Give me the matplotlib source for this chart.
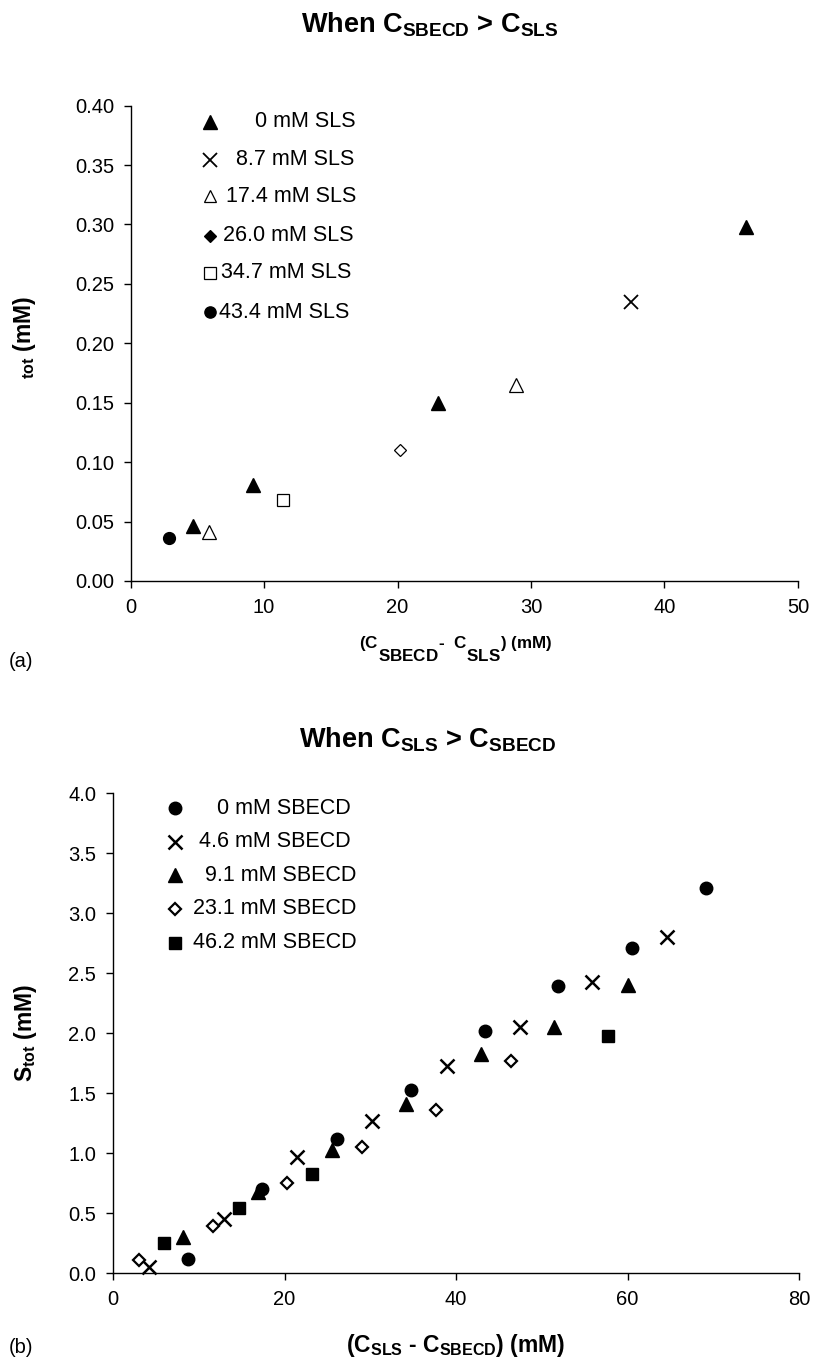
import matplotlib
matplotlib.use("Agg")
import matplotlib.pyplot as plt
from matplotlib.ticker import MultipleLocator, FormatStrFormatter

plt.rcParams['font.family'] = ['Liberation Sans', 'DejaVu Sans']
plt.rcParams['mathtext.fontset'] = 'custom'
plt.rcParams['mathtext.rm'] = 'Liberation Sans'
plt.rcParams['mathtext.bf'] = 'Liberation Sans:bold'
plt.rcParams['mathtext.it'] = 'Liberation Sans:italic'

# ---------------- data: panel (a) ----------------
a_labels = ["0 mM SLS", "8.7 mM SLS", "17.4 mM SLS", "26.0 mM SLS", "34.7 mM SLS", "43.4 mM SLS"]
a0_x = [4.65, 9.2, 23.05, 46.1]
a0_y = [0.046, 0.081, 0.150, 0.298]
a1_x = [37.5]
a1_y = [0.235]
a2_x = [5.9, 28.9]
a2_y = [0.041, 0.165]
a3_x = [20.15]
a3_y = [0.110]
a4_x = [11.45]
a4_y = [0.068]
a5_x = [2.85]
a5_y = [0.036]

# ---------------- data: panel (b) ----------------
b_labels = ["0 mM SBECD", "4.6 mM SBECD", "9.1 mM SBECD", "23.1 mM SBECD", "46.2 mM SBECD"]
b0_x = [8.75, 17.4, 26.1, 34.7, 43.4, 51.9, 60.5, 69.1]
b0_y = [0.12, 0.70, 1.12, 1.53, 2.02, 2.39, 2.71, 3.21]
b1_x = [4.2, 12.9, 21.45, 30.2, 38.9, 47.5, 55.9, 64.6]
b1_y = [0.05, 0.455, 0.97, 1.265, 1.73, 2.055, 2.43, 2.80]
b2_x = [8.15, 16.95, 25.5, 34.2, 42.9, 51.4, 60.0]
b2_y = [0.30, 0.68, 1.03, 1.41, 1.83, 2.05, 2.40]
b3_x = [3.0, 11.65, 20.3, 29.0, 37.7, 46.4]
b3_y = [0.11, 0.39, 0.755, 1.055, 1.36, 1.77]
b4_x = [5.95, 14.65, 23.2, 57.7]
b4_y = [0.255, 0.54, 0.825, 1.98]

TICK_FS = 14.5
LEG_FS = 15.5

fig = plt.figure(figsize=(8.13, 13.59), dpi=100)
axA = fig.add_axes([0.1606, 0.5725, 0.8209, 0.3498])
axB = fig.add_axes([0.139, 0.0631, 0.8438, 0.3532])


def style_axes(ax, xmax, xstep, ymax, ystep, yfmt):
    ax.set_xlim(0, xmax)
    ax.set_ylim(0, ymax)
    ax.xaxis.set_major_locator(MultipleLocator(xstep))
    ax.yaxis.set_major_locator(MultipleLocator(ystep))
    ax.yaxis.set_major_formatter(FormatStrFormatter(yfmt))
    for s in ['top', 'right']:
        ax.spines[s].set_visible(False)
    for s in ['left', 'bottom']:
        ax.spines[s].set_linewidth(1.0)
        ax.spines[s].set_color('black')
    ax.tick_params(direction='out', length=5, width=1.0, labelsize=TICK_FS, pad=7, colors='black')


style_axes(axA, 50, 10, 0.40, 0.05, '%.2f')
style_axes(axB, 80, 20, 4.0, 0.5, '%.1f')

k = dict(linestyle='none', clip_on=False, color='black')

# panel (a) series styles: (marker, size, face, edgewidth)
a_series = [
    (a0_x, a0_y, '^', 10, 'black', 1.0),
    (a1_x, a1_y, 'x', 10, 'black', 1.3),
    (a2_x, a2_y, '^', 9.5, 'white', 0.9),
    (a3_x, a3_y, 'D', 6, 'white', 0.9),
    (a4_x, a4_y, 's', 8.5, 'white', 0.9),
    (a5_x, a5_y, 'o', 8.5, 'black', 1.0),
]
for x, y, m, ms, fc, mew in a_series:
    axA.plot(x, y, marker=m, markersize=ms, markerfacecolor=fc,
             markeredgecolor='black', markeredgewidth=mew, **k)

# legend (a)
a_leg_face = ['black', 'black', 'white', 'black', 'white', 'black']
a_leg_y = [0.9655, 0.8856, 0.8098, 0.7257, 0.6479, 0.5658]
a_leg_tx = [0.1864, 0.1579, 0.1429, 0.1384, 0.1354, 0.1325]
for i, (x, y, m, ms, fc, mew) in enumerate(a_series):
    axA.plot([0.119], [a_leg_y[i]], transform=axA.transAxes, marker=m,
             markersize=ms * 0.95, markerfacecolor=a_leg_face[i],
             markeredgecolor='black', markeredgewidth=mew, **k)
    axA.text(a_leg_tx[i], a_leg_y[i], a_labels[i], transform=axA.transAxes,
             fontsize=LEG_FS, ha='left', va='center')

# panel (b) series
b_series = [
    (b0_x, b0_y, 'o', 9, 'black', 1.0),
    (b1_x, b1_y, 'x', 9.5, 'black', 1.8),
    (b2_x, b2_y, '^', 9.5, 'black', 1.0),
    (b3_x, b3_y, 'D', 5.8, 'white', 1.6),
    (b4_x, b4_y, 's', 9, 'black', 1.0),
]
for x, y, m, ms, fc, mew in b_series:
    axB.plot(x, y, marker=m, markersize=ms, markerfacecolor=fc,
             markeredgecolor='black', markeredgewidth=mew, **k)

b_leg_y = [0.9683, 0.8985, 0.8288, 0.7590, 0.6888]
b_leg_tx = [0.1523, 0.1254, 0.1341, 0.1166, 0.1166]
for i, (x, y, m, ms, fc, mew) in enumerate(b_series):
    axB.plot([0.0897], [b_leg_y[i]], transform=axB.transAxes, marker=m,
             markersize=ms, markerfacecolor=fc,
             markeredgecolor='black', markeredgewidth=mew, **k)
    axB.text(b_leg_tx[i], b_leg_y[i], b_labels[i], transform=axB.transAxes,
             fontsize=LEG_FS, ha='left', va='center')

# titles and labels
fig.text(0.529, 0.9816, r'When C$_{\mathbf{SBECD}}$ > C$_{\mathbf{SLS}}$',
         fontsize=19.5, fontweight='bold', ha='center', va='center')
fig.text(0.5264, 0.4555, r'When C$_{\mathbf{SLS}}$ > C$_{\mathbf{SBECD}}$',
         fontsize=19.5, fontweight='bold', ha='center', va='center')

fig.text(0.561, 0.5225,
         r'${}^{\mathbf{(C}}{}_{\mathbf{SBECD}}{}^{\mathbf{‐\ \ C}}{}_{\mathbf{SLS}}{}^{\mathbf{)\ (mM)}}$',
         fontsize=17.5, fontweight='bold', ha='center', va='center')
fig.text(0.561, 0.0096, r'(C$_{\mathbf{SLS}}$ - C$_{\mathbf{SBECD}}$) (mM)',
         fontsize=16.5, fontweight='bold', ha='center', va='center')

fig.text(0.03, 0.752, r'${}_{\mathbf{tot}}$ (mM)', fontsize=16.5, fontweight='bold',
         rotation=90, ha='center', va='center')
fig.text(0.0308, 0.24, r'S$_{\mathbf{tot}}$ (mM)', fontsize=16.5, fontweight='bold',
         rotation=90, ha='center', va='center')

fig.text(0.011, 0.5129, '(a)', fontsize=TICK_FS, ha='left', va='center')
fig.text(0.011, 0.0088, '(b)', fontsize=TICK_FS, ha='left', va='center')

fig.savefig('out.png', dpi=100)
